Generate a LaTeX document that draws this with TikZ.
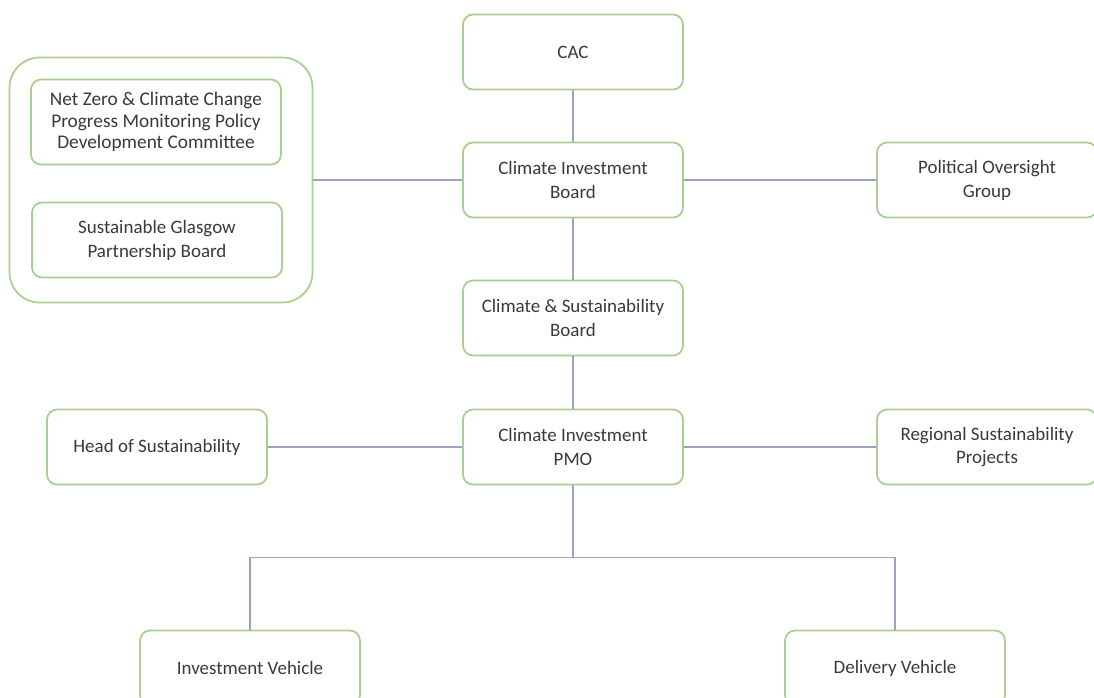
\documentclass[tikz,border=0pt]{standalone}
\usepackage{fontspec}
\setmainfont{Carlito}
\usepackage{xcolor}
\usetikzlibrary{positioning, calc}

\definecolor{boxline}{HTML}{A9CF8F}
\definecolor{linkline}{HTML}{9AA3C4}
\definecolor{boxtext}{HTML}{3A3A3A}

\begin{document}
\begin{tikzpicture}[
    x=0.02cm, y=-0.02cm,
    every node/.style={align=center, text=boxtext, font=\fontsize{10.8}{13.6}\selectfont},
    board/.style={draw=boxline, line width=1pt, rounded corners=0.2cm, fill=white, minimum width=4.4cm, minimum height=1.5cm},
    group/.style={draw=boxline, line width=1pt, rounded corners=0.6cm, minimum width=6.06cm, minimum height=4.9cm},
    link/.style={draw=linkline, line width=0.8pt}
]
\useasboundingbox (0,0) rectangle (1094,697);
\clip (0,0) rectangle (1094,697);

% central column
\node[board] (cac) at (573,52) {CAC};
\node[board] (cib) at (573,180) {Climate Investment\\Board};
\node[board] (csb) at (573,318) {Climate \& Sustainability\\Board};
\node[board] (pmo) at (573,447) {Climate Investment\\PMO};

% left group
\node[group] (grp) at (161,180) {};
\node[board, minimum width=5cm, minimum height=1.7cm, font=\fontsize{11}{12.4}\selectfont] (netzero) at (156,122) {Net Zero \& Climate Change\\Progress Monitoring Policy\\Development Committee};
\node[board, minimum width=5cm] (glasgow) at (157,240) {Sustainable Glasgow\\Partnership Board};

% side boxes
\node[board] (pog) at (987,180) {Political Oversight\\Group};
\node[board] (hos) at (157,447) {Head of Sustainability};
\node[board] (rsp) at (987,447) {Regional Sustainability\\Projects};

% vehicles
\node[board] (iv) at (250,668) {Investment Vehicle};
\node[board] (dv) at (895,668) {Delivery Vehicle};

% connectors
\draw[link] (cac) -- (cib);
\draw[link] (cib) -- (csb);
\draw[link] (csb) -- (pmo);
\draw[link] (grp.east) -- (cib.west);
\draw[link] (cib.east) -- (pog.west);
\draw[link] (hos.east) -- (pmo.west);
\draw[link] (pmo.east) -- (rsp.west);
\draw[link] (pmo.south) -- ++(0,72) coordinate (split);
\draw[link] (iv.north) |- (split) -| (dv.north);

\end{tikzpicture}
\end{document}
